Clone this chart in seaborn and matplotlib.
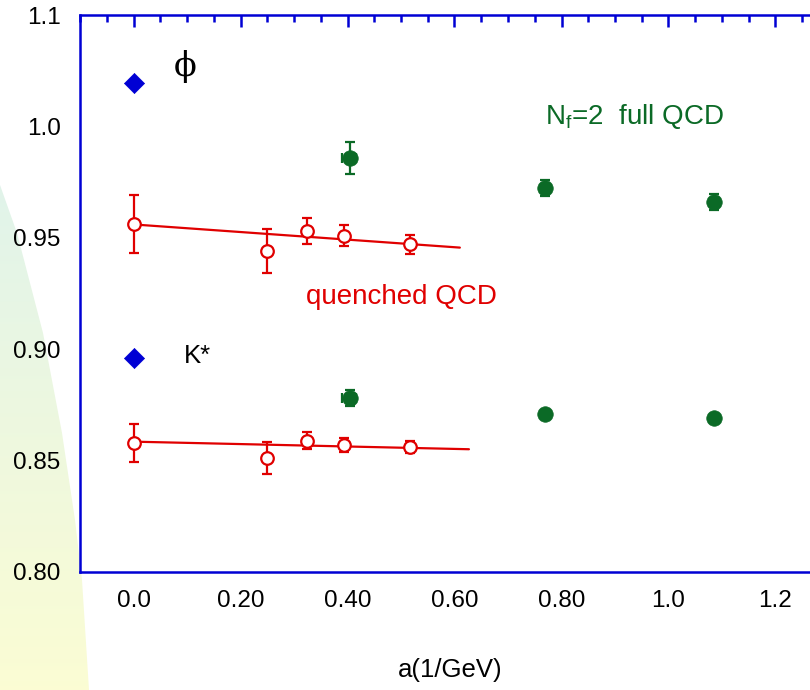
"""
Vector meson masses (phi, K*) vs lattice spacing a.
Quenched QCD (open red) with continuum fit, Nf=2 full QCD (filled green),
experimental values as blue diamonds at a=0.
"""
import numpy as np
import pandas as pd
import matplotlib.pyplot as plt
import seaborn as sns
from matplotlib.patches import Polygon
from matplotlib.ticker import MultipleLocator

# ---- data ----
exp_a = [0.0, 0.0]
exp_mass = [1.0195, 0.8962]

quen_a = [0.0, 0.25, 0.325, 0.393, 0.517]
quen_phi = [0.956, 0.944, 0.953, 0.951, 0.947]
quen_phi_err = [0.013, 0.010, 0.006, 0.0046, 0.0041]
quen_kstar = [0.858, 0.851, 0.859, 0.857, 0.856]
quen_kstar_err = [0.0085, 0.0072, 0.004, 0.0031, 0.0026]

fit_phi_a = [0.0, 0.61]
fit_phi = [0.956, 0.9456]
fit_kstar_a = [0.0, 0.627]
fit_kstar = [0.8585, 0.8551]

full_a = [0.405, 0.77, 1.085]
full_phi = [0.9857, 0.9722, 0.9659]
full_phi_err = [0.0071, 0.0036, 0.0036]
full_kstar = [0.878, 0.8709, 0.869]
full_kstar_err = [0.0037, 0.0015, 0.0015]
# horizontal error only on the finest full QCD point
full_a_err_lo = 0.016
full_a_err_hi = 0.010

x_ticks = [0.0, 0.2, 0.4, 0.6, 0.8, 1.0, 1.2]
x_ticklabels = ['0.0', '0.20', '0.40', '0.60', '0.80', '1.0', '1.2']
y_ticks = [0.80, 0.85, 0.90, 0.95, 1.00, 1.05]
y_ticklabels = ['0.80', '0.85', '0.90', '0.95', '1.0', '1.1']

BLUE = '#0000d4'
RED = '#e00000'
GREEN = '#0b6a26'

sns.set_theme(style="white")
plt.rcParams['font.family'] = ['Liberation Sans', 'DejaVu Sans']
plt.rcParams['mathtext.fontset'] = 'custom'
plt.rcParams['mathtext.rm'] = 'Liberation Sans'
plt.rcParams['mathtext.it'] = 'Liberation Sans'

fig = plt.figure(figsize=(8.1, 6.9), dpi=100)

# decorative gradient arc behind the plot (pixel coordinates)
bg = fig.add_axes([0, 0, 1, 1], zorder=-1)
bg.set_xlim(0, 810)
bg.set_ylim(690, 0)
bg.axis('off')
edge = [(-5, 175), (0, 185), (17, 233), (43, 333), (62, 433), (75, 520),
        (82, 580), (89, 690), (-5, 690)]
clip = Polygon(edge, closed=True, transform=bg.transData, facecolor='none', edgecolor='none')
bg.add_patch(clip)
grad = np.linspace(0, 1, 256).reshape(-1, 1)
top = np.array([0.88, 0.955, 0.92])
bottom = np.array([0.985, 0.99, 0.83])
img = (top + grad[..., None] * (bottom - top)).reshape(256, 1, 3)
im = bg.imshow(img, extent=(-5, 100, 690, 175), aspect='auto', interpolation='bilinear')
im.set_clip_path(clip)

# main axes: left spine at 80px, bottom at 572px, top at 15px, right beyond the image
ax = fig.add_axes([80 / 810, 118 / 690, 749 / 810, 557 / 690])
ax.set_facecolor('white')
ax.set_xlim(-0.1, 1.3)
ax.set_ylim(0.80, 1.05)

# error bars
eb = dict(fmt='none', elinewidth=1.6, capsize=3.6, capthick=1.6, zorder=2)
ax.errorbar(quen_a, quen_phi, yerr=quen_phi_err, ecolor=RED, **eb)
ax.errorbar(quen_a, quen_kstar, yerr=quen_kstar_err, ecolor=RED, **eb)
ax.errorbar(full_a, full_phi, yerr=full_phi_err, ecolor=GREEN, **eb)
ax.errorbar(full_a, full_kstar, yerr=full_kstar_err, ecolor=GREEN, **eb)
for m in [full_phi[0], full_kstar[0]]:
    ax.errorbar([full_a[0]], [m], xerr=[[full_a_err_lo], [full_a_err_hi]], ecolor=GREEN, **eb)

# fit lines
sns.lineplot(x=fit_phi_a, y=fit_phi, color=RED, lw=1.6, ax=ax, zorder=1)
sns.lineplot(x=fit_kstar_a, y=fit_kstar, color=RED, lw=1.6, ax=ax, zorder=1)

# markers
quen = pd.DataFrame({'a': quen_a * 2, 'm': quen_phi + quen_kstar})
full = pd.DataFrame({'a': full_a * 2, 'm': full_phi + full_kstar})
sns.scatterplot(data=quen, x='a', y='m', marker='o', s=82, facecolor='white',
                edgecolor=RED, linewidth=1.6, ax=ax, zorder=3)
sns.scatterplot(data=full, x='a', y='m', marker='o', s=125, color=GREEN,
                edgecolor=GREEN, linewidth=0.5, ax=ax, zorder=3)
sns.scatterplot(x=exp_a, y=exp_mass, marker='D', s=105, color=BLUE,
                edgecolor=BLUE, linewidth=0.5, ax=ax, zorder=3)

# labels inside the plot
ax.text(0.097, 1.027, '\u03d5', fontsize=24, family=['DejaVu Serif'], ha='center', va='center', color='black')
ax.text(0.0935, 0.8938, 'K*', fontsize=18.5, ha='left', va='baseline', color='black')
ax.text(0.3215, 0.9203, 'quenched QCD', fontsize=20, ha='left', va='baseline', color=RED)
ax.text(0.770, 1.0011, r'N$_{\rm f}$=2  full QCD', fontsize=20, ha='left', va='baseline', color=GREEN)

# axes styling
for side in ['left', 'right', 'top', 'bottom']:
    ax.spines[side].set_color(BLUE)
    ax.spines[side].set_linewidth(1.8)
ax.set_xticks(x_ticks)
ax.set_xticklabels(x_ticklabels)
ax.set_yticks(y_ticks)
ax.set_yticklabels(y_ticklabels)
ax.xaxis.set_minor_locator(MultipleLocator(0.05))
ax.yaxis.set_minor_locator(MultipleLocator(0.01))
ax.tick_params(which='both', direction='in', top=True, right=True, color=BLUE,
               width=1.8, labelsize=17.5, labelcolor='black')
ax.tick_params(which='major', length=8.6)
ax.tick_params(which='minor', length=5)
ax.tick_params(axis='x', pad=13)
ax.tick_params(axis='y', pad=14)
ax.grid(False)

ax.set_xlabel('a(1/GeV)', fontsize=18.5, color='black', va='top')
ax.xaxis.set_label_coords((450 - 80) / 749, -0.155)
ax.set_ylabel('')

fig.savefig('out.png', dpi=100)
plt.close(fig)
